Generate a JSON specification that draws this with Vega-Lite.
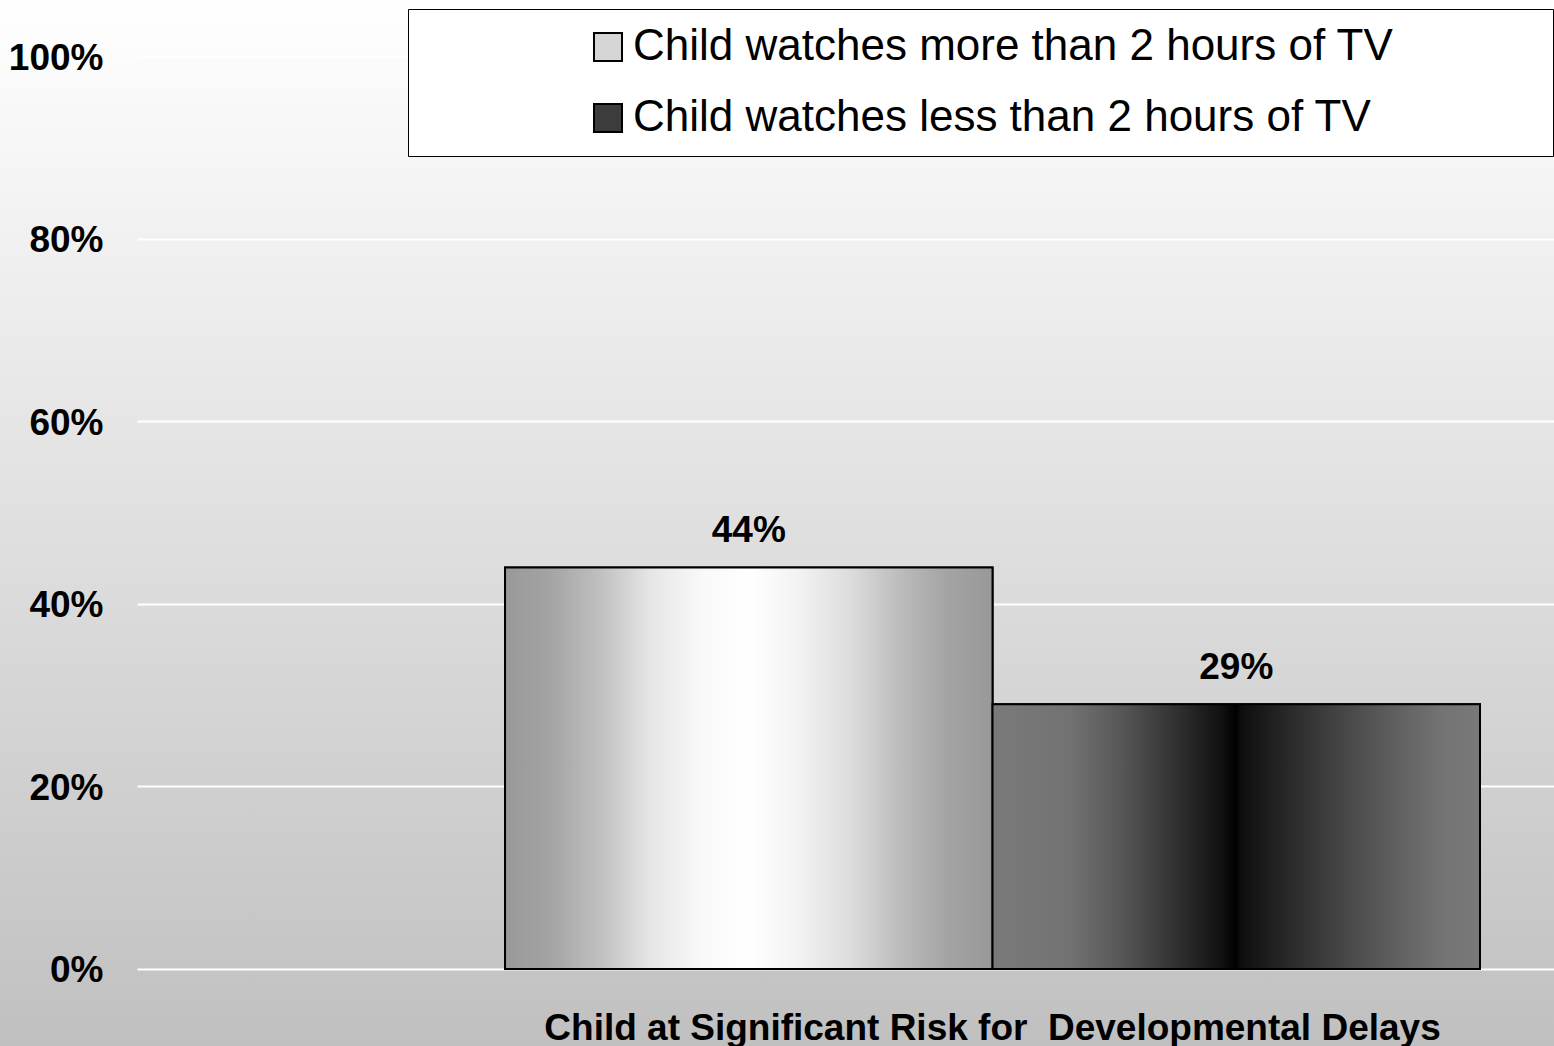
{
  "$schema": "https://vega.github.io/schema/vega-lite/v6.json",
  "padding": 0,
  "autosize": {"type": "pad"},
  "background": "#ffffff",
  "spacing": 0,
  "bounds": "flush",
  "config": {
    "font": "Liberation Sans",
    "view": {
      "stroke": null,
      "fill": {
        "gradient": "linear", "x1": 0, "y1": 0, "x2": 0, "y2": 1,
        "stops": [{"offset": 0, "color": "#ffffff"}, {"offset": 1, "color": "#c0c0c0"}]
      }
    }
  },
  "data": {
    "values": [
      {"measure": "Child at Significant Risk for  Developmental Delays", "group": "Child watches more than 2 hours of TV", "value": 0.44},
      {"measure": "Child at Significant Risk for  Developmental Delays", "group": "Child watches less than 2 hours of TV", "value": 0.29}
    ]
  },
  "resolve": {"legend": {"fill": "independent"}},
  "hconcat": [
    {
      "width": 137,
      "height": 1046,
      "mark": {"type": "rule", "opacity": 0},
      "encoding": {
        "y": {
          "field": "value", "type": "quantitative",
          "scale": {"domain": [-0.0844, 1.0619], "nice": false, "zero": false},
          "axis": {
            "orient": "left", "offset": -137, "values": [0, 0.2, 0.4, 0.6, 0.8, 1], "format": ".0%",
            "labelFontSize": 37, "labelFontWeight": "bold", "labelColor": "black", "labelFont": "Liberation Sans",
            "labelPadding": 34, "labelOffset": 2, "ticks": false, "tickSize": 0, "domain": false, "grid": false, "title": null
          }
        }
      }
    },
    {
      "width": 1417,
      "height": 1046,
      "encoding": {
        "x": {
          "field": "measure", "type": "nominal",
          "scale": {"paddingInner": 0, "paddingOuter": 0.2267, "align": 0.8326},
          "axis": {
            "orient": "bottom", "offset": -77, "title": null, "labelAngle": 0,
            "labelExpr": "replace(datum.label, '  ', ' \u00a0')",
            "labelFontSize": 37, "labelFontWeight": "bold", "labelColor": "black", "labelFont": "Liberation Sans",
            "labelPadding": 41, "labelLimit": 2000, "ticks": false, "tickSize": 0, "domain": false, "grid": false
          }
        },
        "xOffset": {
          "field": "group", "type": "nominal",
          "sort": ["Child watches more than 2 hours of TV", "Child watches less than 2 hours of TV"],
          "scale": {"paddingInner": 0, "paddingOuter": 0}
        },
        "y": {
          "field": "value", "type": "quantitative", "stack": null,
          "scale": {"domain": [-0.0844, 1.0619], "nice": false, "zero": false},
          "axis": {
            "values": [0, 0.2, 0.4, 0.6, 0.8, 1], "labels": false, "ticks": false, "domain": false,
            "title": null, "grid": true, "gridColor": "#ffffff", "gridWidth": 2, "gridOpacity": 1
          }
        }
      },
      "layer": [
        {
          "transform": [{"filter": "datum.group === 'Child watches more than 2 hours of TV'"}],
          "mark": {"type": "bar", "fill": "#000000", "yOffset": 4}
        },
        {
          "mark": {"type": "bar", "stroke": "#000000", "strokeWidth": 2},
          "encoding": {
            "fill": {
              "field": "group", "type": "nominal",
              "scale": {
                "domain": ["Child watches more than 2 hours of TV", "Child watches less than 2 hours of TV"],
                "range": ["#d6d6d6", "#3c3c3c"]
              },
              "legend": {
                "orient": "none", "legendX": 271, "legendY": 9, "title": null,
                "symbolType": "square", "symbolSize": 784, "symbolStrokeWidth": 2, "symbolStrokeColor": "#000000",
                "symbolOpacity": 1,
                "labelFont": "Liberation Sans", "labelFontSize": 44, "labelColor": "black", "labelLimit": 3000,
                "labelExpr": "datum.label + '\u00a0\u00a0\u00a0\u00a0\u00a0\u00a0\u00a0\u00a0\u00a0\u00a0\u00a0\u2009\u200b'",
                "labelOffset": 3, "rowPadding": 27, "padding": 16, "strokeColor": "black", "fillColor": "white",
                "symbolOffset": 162,
                "encode": {
                  "legend": {"strokeWidth": {"value": 2}}
                }
              }
            }
          }
        },
        {
          "mark": {"type": "bar", "stroke": "#000000", "strokeWidth": 2},
          "encoding": {
            "fill": {
              "condition": {
                "test": "datum.group === 'Child watches more than 2 hours of TV'",
                "value": {"gradient": "linear", "x1": 0, "y1": 0, "x2": 1, "y2": 0,
                   "stops": [
                     {"offset": 0, "color": "#999999"}, {"offset": 0.09, "color": "#a3a3a3"},
                     {"offset": 0.195, "color": "#c0c0c0"}, {"offset": 0.3, "color": "#e6e6e6"},
                     {"offset": 0.4, "color": "#f8f8f8"}, {"offset": 0.5, "color": "#ffffff"},
                     {"offset": 0.605, "color": "#f2f2f2"}, {"offset": 0.71, "color": "#dcdcdc"},
                     {"offset": 0.81, "color": "#bcbcbc"}, {"offset": 0.91, "color": "#a3a3a3"},
                     {"offset": 1, "color": "#989898"}]}
              },
              "value": {"gradient": "linear", "x1": 0, "y1": 0, "x2": 1, "y2": 0,
                 "stops": [
                   {"offset": 0, "color": "#7a7a7a"}, {"offset": 0.16, "color": "#727272"},
                   {"offset": 0.27, "color": "#555555"}, {"offset": 0.37, "color": "#333333"},
                   {"offset": 0.47, "color": "#111111"}, {"offset": 0.5, "color": "#000000"},
                   {"offset": 0.51, "color": "#0e0e0e"}, {"offset": 0.61, "color": "#2a2a2a"},
                   {"offset": 0.71, "color": "#444444"}, {"offset": 0.82, "color": "#5e5e5e"},
                   {"offset": 0.92, "color": "#737373"}, {"offset": 1, "color": "#7a7a7a"}]}
            }
          }
        },
        {
          "mark": {"type": "text", "fontSize": 37, "fontWeight": "bold", "font": "Liberation Sans", "baseline": "alphabetic", "dy": -25, "fill": "black"},
          "encoding": {
            "text": {"field": "value", "type": "quantitative", "format": ".0%"}
          }
        }
      ]
    }
  ]
}
